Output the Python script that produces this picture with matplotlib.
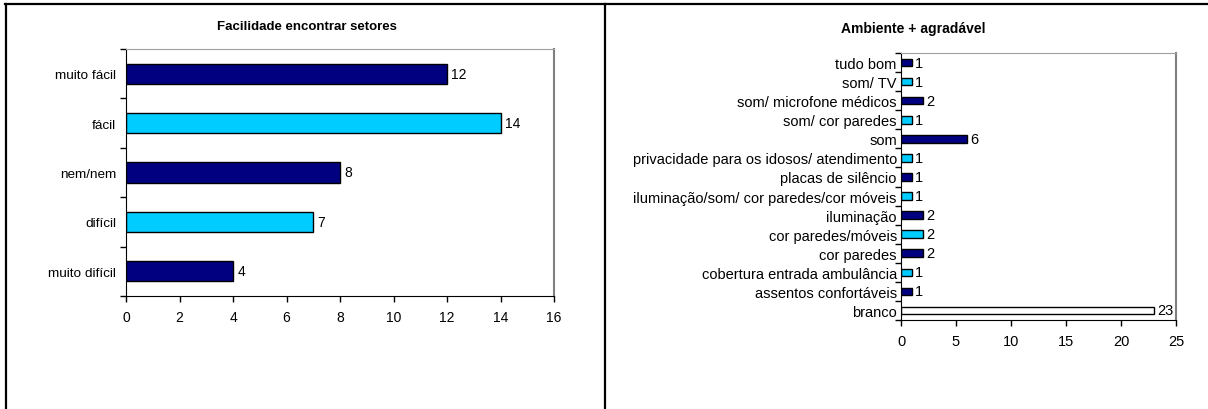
import numpy as np
import matplotlib
matplotlib.use('Agg')
import matplotlib.pyplot as plt
from matplotlib.lines import Line2D

plt.rcParams['font.family'] = ['Liberation Sans', 'DejaVu Sans']

# left chart
left_title = 'Facilidade encontrar setores'
left_cats = ['muito fácil', 'fácil', 'nem/nem', 'difícil', 'muito difícil']
left_vals = [12, 14, 8, 7, 4]

# right chart
right_title = 'Ambiente + agradável'
right_cats = ['tudo bom', 'som/ TV', 'som/ microfone médicos', 'som/ cor paredes', 'som',
              'privacidade para os idosos/ atendimento', 'placas de silêncio',
              'iluminação/som/ cor paredes/cor móveis', 'iluminação', 'cor paredes/móveis',
              'cor paredes', 'cobertura entrada ambulância', 'assentos confortáveis', 'branco']
right_vals = [1, 1, 2, 1, 6, 1, 1, 1, 2, 2, 2, 1, 1, 23]

NAVY = '#000080'
CYAN = '#00CCFF'

W, H = 1208, 410
fig = plt.figure(figsize=(W / 100, H / 100), dpi=100)


def px_axes(x0, y0, x1, y1):
    return fig.add_axes([x0 / W, 1 - y1 / H, (x1 - x0) / W, (y1 - y0) / H])


def style_ax(ax, n, xmax, step, ypad, ysize, xsize):
    ax.set_ylim(n - 0.5, -0.5)
    ax.set_xlim(0, xmax)
    ax.set_xticks(np.arange(0, xmax + 1, step))
    ax.set_yticks(np.arange(n))
    ax.set_yticks(np.arange(n + 1) - 0.5, minor=True)
    ax.tick_params(axis='y', which='major', length=0, pad=ypad, labelsize=ysize)
    ax.tick_params(axis='y', which='minor', length=4, width=1, direction='out')
    ax.tick_params(axis='x', length=4, width=1, direction='out', labelsize=xsize, pad=6)
    ax.spines['left'].set_color('black')
    ax.spines['bottom'].set_color('black')
    ax.spines['top'].set_color('#a0a0a0')
    ax.spines['right'].set_color('#808080')
    ax.spines['right'].set_linewidth(1.5)


# left
ax1 = px_axes(126, 50, 554, 297)
cols1 = [NAVY if i % 2 == 0 else CYAN for i in range(len(left_vals))]
y1 = np.arange(len(left_cats))
ax1.barh(y1, left_vals, height=0.41, color=cols1, edgecolor='black', linewidth=1)
ax1.set_yticklabels(left_cats)
style_ax(ax1, len(left_cats), 16, 2, 7, 9.7, 10)
for yy, v in zip(y1, left_vals):
    ax1.annotate(str(v), (v, yy), xytext=(3, 0), textcoords='offset points',
                 va='center', ha='left', fontsize=10)

# right
ax2 = px_axes(901, 54, 1176, 321)
cols2 = [NAVY if i % 2 == 0 else CYAN for i in range(len(right_vals))]
cols2[-1] = 'white'
y2 = np.arange(len(right_cats))
ax2.barh(y2, right_vals, height=0.4, color=cols2, edgecolor='black', linewidth=1)
ax2.set_yticklabels(right_cats)
style_ax(ax2, len(right_cats), 25, 5, 3, 10.5, 10.5)
for yy, v in zip(y2, right_vals):
    ax2.annotate(str(v), (v, yy), xytext=(2, 0), textcoords='offset points',
                 va='center', ha='left', fontsize=10.5)

fig.text(307 / W, 1 - 27 / H, left_title, ha='center', va='center', fontsize=9.5, fontweight='bold')
fig.text(913 / W, 1 - 29 / H, right_title, ha='center', va='center', fontsize=10, fontweight='bold')

# panel borders
for xs, ys in [([5, W], [5, 5]), ([6, 6], [5, H]), ([605, 605], [5, H])]:
    fig.add_artist(Line2D([x / W for x in xs], [1 - y / H for y in ys],
                          transform=fig.transFigure, color='black', linewidth=1.6))

fig.savefig('out.png', dpi=100)
